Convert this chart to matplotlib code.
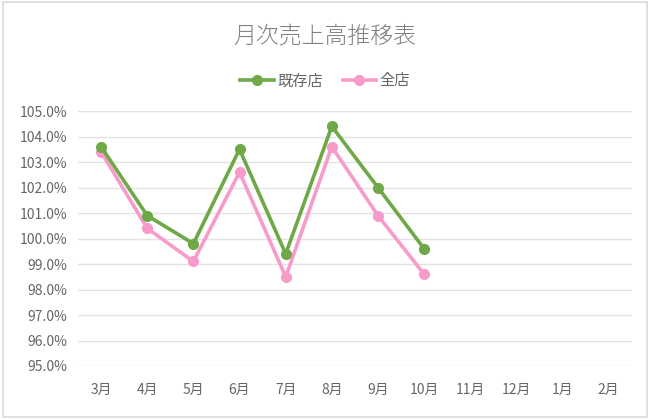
import matplotlib
matplotlib.use("Agg")
import matplotlib.pyplot as plt
from matplotlib.ticker import FuncFormatter, MultipleLocator
from matplotlib.patches import Rectangle

plt.rcParams['font.family'] = ['Noto Sans CJK JP', 'DejaVu Sans']

months = ['3月', '4月', '5月', '6月', '7月', '8月', '9月', '10月', '11月', '12月', '1月', '2月']
existing = [103.6, 100.9, 99.8, 103.5, 99.4, 104.4, 102.0, 99.6]
all_stores = [103.4, 100.4, 99.1, 102.6, 98.5, 103.6, 100.9, 98.6]
title = '月次売上高推移表'
labels = ['既存店', '全店']

green = '#6FA846'
pink = '#F79BCB'
text_color = '#666666'

fig = plt.figure(figsize=(6.5, 4.19), dpi=100)
fig.patch.set_facecolor('white')
fig.add_artist(Rectangle((0.004, 0.004), 0.992, 0.992, transform=fig.transFigure,
                         fill=False, edgecolor='#D9D9D9', linewidth=1.2))

ax = fig.add_axes([0.12, 0.1265, 0.852, 0.6085])
x = list(range(len(months)))
ax.plot(x[:len(existing)], existing, color=green, lw=2.6, marker='o', ms=7, label=labels[0], zorder=3)
ax.plot(x[:len(all_stores)], all_stores, color=pink, lw=2.6, marker='o', ms=7, label=labels[1], zorder=2)

ax.set_xlim(-0.5, len(months) - 0.5)
ax.set_ylim(95, 105)
ax.yaxis.set_major_locator(MultipleLocator(1))
ax.yaxis.set_major_formatter(FuncFormatter(lambda v, p: f'{v:.1f}%'))
ax.set_xticks(x)
ax.set_xticklabels(months)
ax.grid(axis='y', color='#E3E3E3', lw=1)
ax.set_axisbelow(True)
for s in ax.spines.values():
    s.set_visible(False)
ax.tick_params(axis='both', length=0, colors=text_color, labelsize=10)
ax.tick_params(axis='x', pad=12)
ax.tick_params(axis='y', pad=8)

fig.text(0.5, 0.915, title, ha='center', va='center', fontsize=16.5, color='#808080',
         fontweight='light')
fig.legend(loc='center', bbox_to_anchor=(0.5, 0.807), ncol=2, frameon=False,
           fontsize=11, labelcolor=text_color, handlelength=2.2, columnspacing=1.3,
           handletextpad=0.2)

fig.savefig('out.png', dpi=100)
